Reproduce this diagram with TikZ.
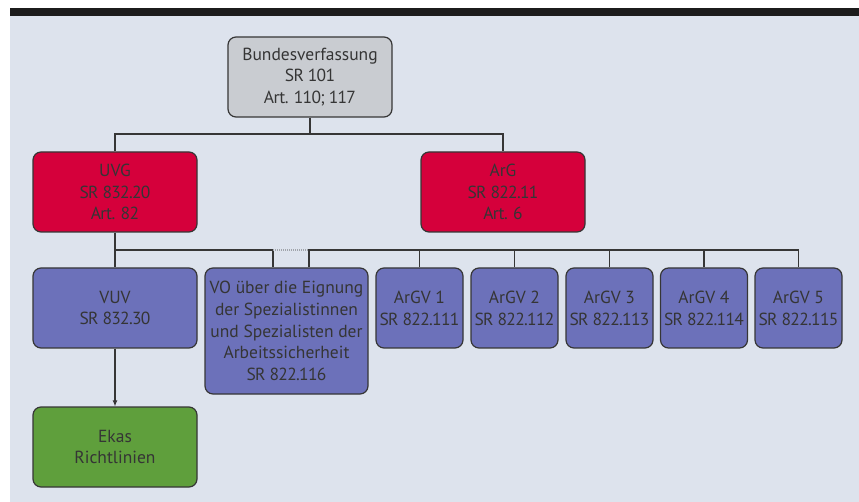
\documentclass[tikz,border=0pt]{standalone}
\usepackage{fontspec}
\setmainfont[Numbers=Proportional]{PT Sans}
\newfontfamily\tightnum[Numbers=Proportional, LetterSpace=-4]{PT Sans}
\newcommand{\srn}[1]{{\tightnum #1}}
\usetikzlibrary{arrows.meta}
\definecolor{bgc}{HTML}{DDE3ED}
\definecolor{barc}{HTML}{1C1C1C}
\definecolor{linec}{HTML}{363636}
\definecolor{txtc}{HTML}{353535}
\definecolor{grayf}{HTML}{C9CCD1}
\definecolor{redf}{HTML}{D5003B}
\definecolor{bluef}{HTML}{6C71BA}
\definecolor{greenf}{HTML}{5F9F3C}
\definecolor{dotc}{HTML}{A0A4AA}
\begin{document}
\begin{tikzpicture}[x=1pt,y=-1pt,
  box/.style={draw=linec, line width=1.2pt, rounded corners=8pt, align=center,
    text=txtc, font=\fontsize{17.5}{21.8}\selectfont, inner sep=0pt},
  wide/.style={box, minimum width=164pt, minimum height=80pt},
  small/.style={box, fill=bluef, minimum width=87pt, minimum height=80pt},
  conn/.style={draw=linec, line width=1.1pt},
  dots/.style={draw=dotc, line width=1.1pt, dash pattern=on 1pt off 1pt}]
\useasboundingbox (0,0) rectangle (859,502);
\fill[white] (0,0) rectangle (859,502);
\fill[bgc] (10,16) rectangle (859,502);
\fill[barc] (10,8) rectangle (859,16);

\node[wide, fill=grayf] (bv) at (310,77) {Bundesverfassung\\\srn{SR 101}\\\srn{Art. 110; 117}};
\node[wide, fill=redf] (uvg) at (115,192) {UVG\\\srn{SR 832.20}\\\srn{Art. 82}};
\node[wide, fill=redf] (arg) at (503,192) {ArG\\\srn{SR 822.11}\\\srn{Art. 6}};
\node[wide, fill=bluef] (vuv) at (115,308) {VUV\\\srn{SR 832.30}};
\node[box, fill=bluef, minimum width=163pt, minimum height=126pt] (vo) at (286.5,331)
  {VO über die Eignung\\der Spezialistinnen\\und Spezialisten der\\Arbeitssicherheit\\\srn{SR 822.116}};
\node[small] (g1) at (419.5,308) {ArGV 1\\\srn{SR 822.111}};
\node[small] (g2) at (514.5,308) {ArGV 2\\\srn{SR 822.112}};
\node[small] (g3) at (609.5,308) {ArGV 3\\\srn{SR 822.113}};
\node[small] (g4) at (704,308) {ArGV 4\\\srn{SR 822.114}};
\node[small] (g5) at (798.5,308) {ArGV 5\\\srn{SR 822.115}};
\node[wide, fill=greenf] (ek) at (115,447) {Ekas\\Richtlinien};

\coordinate (j1) at (0,134);
\coordinate (j2) at (0,250);
\coordinate (voL) at ([xshift=-13.5pt]vo.north);
\coordinate (voR) at ([xshift=22.5pt]vo.north);

\draw[conn] (bv.south) -- (bv.south |- j1);
\draw[conn] (uvg.north) -- (uvg.north |- j1) -- (arg.north |- j1) -- (arg.north);
\draw[conn] (uvg.south) -- (vuv.north);
\draw[conn] (vuv.north |- j2) -- (voL |- j2) -- (voL);
\draw[dots] (voL |- j2) -- (voR |- j2);
\draw[conn] (voR) -- (voR |- j2) -- (g5.north |- j2) -- (g5.north);
\foreach \g in {g1,g2,g3,g4} \draw[conn] (\g.north) -- (\g.north |- j2);
\draw[conn, -{Latex[length=6pt,width=5pt]}] (vuv.south) -- (ek.north);
\end{tikzpicture}
\end{document}
